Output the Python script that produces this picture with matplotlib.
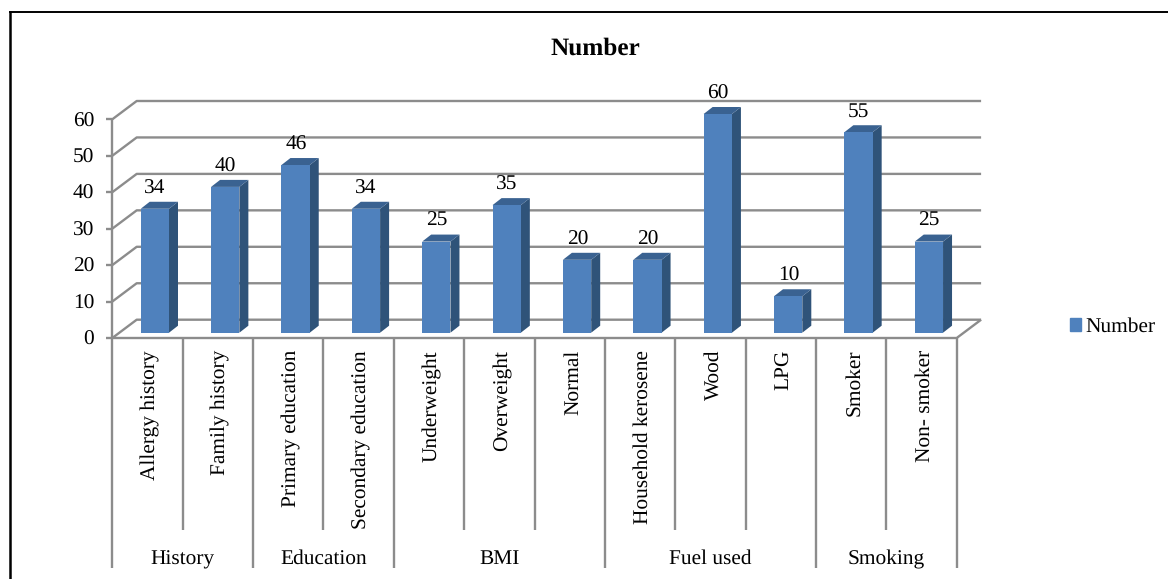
#!/usr/bin/env python3
"""Pseudo-3D column chart of respondent counts, with a two-level category axis."""
import matplotlib; matplotlib.use("Agg")
import matplotlib.pyplot as plt
from matplotlib.patches import Patch, Polygon

plt.rcParams["font.family"] = ["Liberation Serif", "DejaVu Serif"]
plt.rcParams["text.hinting"] = "no_hinting"

categories = ["Allergy history", "Family history", "Primary education", "Secondary education",
              "Underweight", "Overweight", "Normal", "Household kerosene", "Wood", "LPG",
              "Smoker", "Non- smoker"]
values = [34, 40, 46, 34, 25, 35, 20, 20, 60, 10, 55, 25]
groups = ["History", "Education", "BMI", "Fuel used", "Smoking"]
group_edges = [0, 2, 4, 7, 10, 12]
yticks = [0, 10, 20, 30, 40, 50, 60]

W, H = 1168, 579
FRONT, SIDE, TOP = "#4F81BD", "#2F5379", "#3A6291"
GRID = "#8C8C8C"
FS = 15.4

fig = plt.figure(figsize=(W / 100, H / 100), dpi=100)
# the axes box is the front plane of the chart; depth is added by hand
L, R, B, T = 112.3, 956.7, 338.0, 119.3
ax = fig.add_axes([L / W, 1 - B / H, (R - L) / W, (B - T) / H])
ax.set_xlim(0, 12); ax.set_ylim(0, 60)
ax.axis("off")
px_x = (R - L) / 12      # pixels per category
px_y = (B - T) / 60      # pixels per count
dx, dy = 24.4 / px_x, 18.3 / px_y           # depth of the floor
bar_l, bar_w = 28.4 / px_x, 28.3 / px_x     # column inset and width
bar_dx, bar_dy = 9.0 / px_x, 7.0 / px_y     # column depth
bar_y = 5.3 / px_y                          # column base above front edge
line = dict(color=GRID, lw=1.7, clip_on=False, solid_capstyle="butt")

# walls and floor
for t in yticks:
    ax.plot([0, dx, 12 + dx], [t, t + dy, t + dy], **line)
    ax.plot([-6 / px_x, 0], [t, t], **line)
ax.plot([0, 0], [0, 60], **line)
ax.plot([0, 12, 12 + dx], [0, 0, dy], **line)

# columns
for i, v in enumerate(values):
    x0, x1 = i + bar_l, i + bar_l + bar_w
    y0, y1 = bar_y, bar_y + v
    ax.add_patch(Polygon([(x1, y0), (x1 + bar_dx, y0 + bar_dy), (x1 + bar_dx, y1 + bar_dy), (x1, y1)],
                         fc=SIDE, ec="none", clip_on=False, zorder=3))
    ax.add_patch(Polygon([(x0, y1), (x1, y1), (x1 + bar_dx, y1 + bar_dy), (x0 + bar_dx, y1 + bar_dy)],
                         fc=TOP, ec="none", clip_on=False, zorder=3))
    ax.bar(x0, v, width=bar_w, bottom=y0, align="edge", color=FRONT, clip_on=False, zorder=4)
    ax.text((x0 + x1) / 2 + 0.2 / px_x, y1 + bar_dy + 4 / px_y, str(v), ha="center", va="bottom",
            fontsize=FS, color="black", zorder=5)

for t in yticks:
    ax.text(-18 / px_x, t - 2 / px_y, str(t), ha="right", va="center", fontsize=FS)

# two-level category axis below the floor
short_end, long_end = -192 / px_y, -230 / px_y
for i in range(13):
    ax.plot([i, i], [0, long_end if i in group_edges else short_end], **line)
for i, c in enumerate(categories):
    ax.text(i + 0.5 + 3 / px_x, -12 / px_y, c, rotation=90, ha="center", va="top", fontsize=FS)
for a, b, g in zip(group_edges[:-1], group_edges[1:], groups):
    ax.text((a + b) / 2, -221 / px_y, g, ha="center", va="center", fontsize=FS)

fig.text(595.5 / W, 1 - 49 / H, "Number", ha="center", va="center", fontsize=18.2, fontweight="bold")
fig.legend(handles=[Patch(color=FRONT, label="Number")], loc="center left",
           bbox_to_anchor=(1070 / W, 1 - 327 / H), frameon=False, fontsize=FS,
           handlelength=0.52, handleheight=0.52, handletextpad=0.2, borderpad=0, borderaxespad=0)

# chart frame
fig.add_artist(plt.Line2D([10 / W, 10 / W], [0, 1 - 11.5 / H], color="black", lw=1.8))
fig.add_artist(plt.Line2D([9.5 / W, 1], [1 - 11.5 / H, 1 - 11.5 / H], color="black", lw=1.4))

fig.savefig("out.png", dpi=100)
